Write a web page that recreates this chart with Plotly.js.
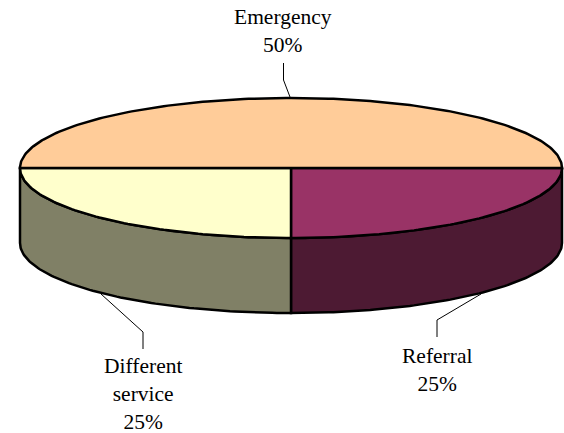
<!DOCTYPE html>
<html><head><meta charset="utf-8">
<script src="https://cdn.plot.ly/plotly-3.0.1.min.js"></script>
<style>html,body{margin:0;padding:0;background:#fff}</style></head>
<body><div id="chart" style="width:564px;height:433px"></div>
<script>
const categories = ["Referral", "Different<br>service", "Emergency"];
const values = [25, 25, 50];
const topColors = ["#993366", "#FFFFCC", "#FFCC99"];
const sideColors = ["#4D1A33", "#808066", "#804D33"];
const labelX = [437, 143, 283];
const labelY = [370, 394, 31];
const leaderX = [[437,437,481],[143,143,101],[283.5,283.5,290]];
const leaderY = [[337,320,294],[349,332,294],[63,80,97]];

const cx = 291, cy = 168, rx = 271, ry = 70, depth = 75;
const total = values.reduce((a,b)=>a+b,0);
const traces = [], tops = [];
const arc = (a0,a1,dy) => {
  const xs=[], ys=[], n=Math.max(2,Math.ceil((a1-a0)/1));
  for(let i=0;i<=n;i++){const t=(a0+(a1-a0)*i/n)*Math.PI/180;
    xs.push(cx+rx*Math.cos(t)); ys.push(cy+dy+ry*Math.sin(t));}
  return [xs,ys];
};
let start = 0;
values.forEach((v,i)=>{
  const end = start + v/total*360;
  const a0 = Math.min(start,180), a1 = Math.min(end,180);
  if(a1>a0){
    const [tx,ty]=arc(a0,a1,0), [bx,by]=arc(a0,a1,depth);
    traces.push({type:"scatter",mode:"lines",x:[...tx,...bx.reverse(),tx[0]],y:[...ty,...by.reverse(),ty[0]],
      fill:"toself",fillcolor:sideColors[i],line:{color:"#000",width:2.5,shape:"linear"},hoverinfo:"skip",cliponaxis:false});
  }
  const [wx,wy]=arc(start,end,0);
  tops.push({type:"scatter",mode:"lines",x:[cx,...wx,cx],y:[cy,...wy,cy],
    fill:"toself",fillcolor:topColors[i],line:{color:"#000",width:2.5},hoverinfo:"skip",cliponaxis:false});
  start = end;
});
const leaders = leaderX.map((xs,i)=>({type:"scatter",mode:"lines",x:xs,y:leaderY[i],
  line:{color:"#000",width:1},hoverinfo:"skip",cliponaxis:false}));
const annotations = categories.map((c,i)=>({x:labelX[i],y:labelY[i],xref:"x",yref:"y",showarrow:false,
  text:c+"<br>"+values[i]+"%",align:"center",xanchor:"center",yanchor:"middle",
  font:{family:"Liberation Serif",size:21.5,color:"#000"}}));
const hidden={visible:false,fixedrange:true};
Plotly.newPlot("chart",[...traces,...tops,...leaders],{
  width:564,height:433,margin:{l:0,r:0,t:0,b:0},showlegend:false,
  paper_bgcolor:"#fff",plot_bgcolor:"#fff",
  xaxis:{...hidden,range:[0,564]},yaxis:{...hidden,range:[433,0]},annotations
},{displayModeBar:false,staticPlot:true});
</script></body></html>
